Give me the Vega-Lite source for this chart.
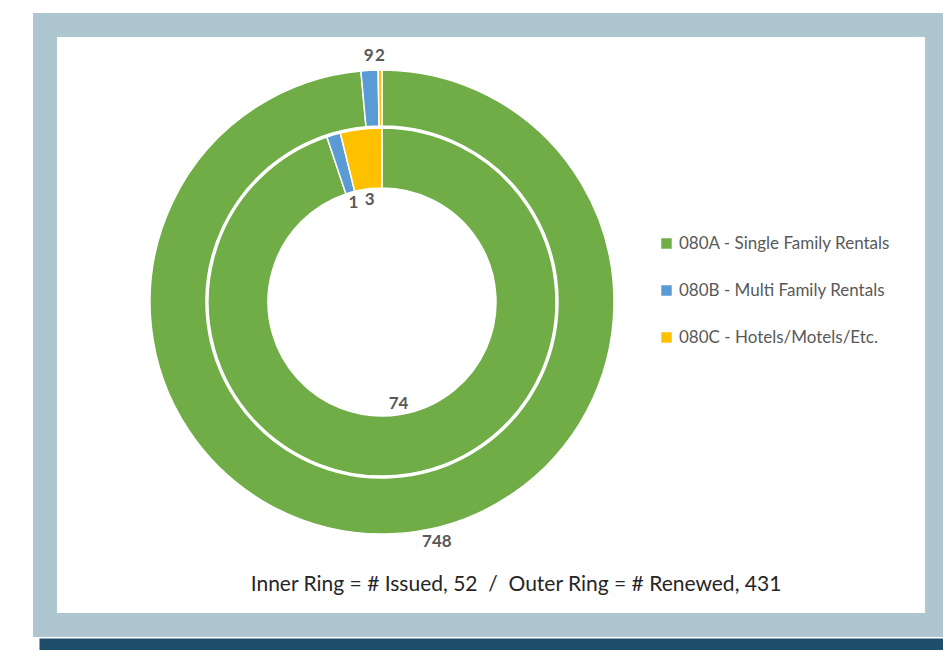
{
  "$schema": "https://vega.github.io/schema/vega-lite/v6.json",
  "width": 892,
  "height": 600,
  "autosize": {"type": "none"},
  "padding": {"left": 45, "top": 25, "right": 6, "bottom": 25},
  "background": "white",
  "title": {
    "text": "Inner Ring = # Issued, 52 \u00a0/\u00a0 Outer Ring = # Renewed, 431",
    "orient": "bottom",
    "anchor": "middle",
    "offset": -70,
    "dx": 25,
    "font": "Lato",
    "fontSize": 21,
    "fontWeight": "normal",
    "color": "#262626"
  },
  "data": {
    "values": [
      {"ring": "outer", "category": "080A - Single Family Rentals", "ord": 1, "value": 748},
      {"ring": "outer", "category": "080B - Multi Family Rentals", "ord": 2, "value": 9},
      {"ring": "outer", "category": "080C - Hotels/Motels/Etc.", "ord": 3, "value": 2},
      {"ring": "inner", "category": "080A - Single Family Rentals", "ord": 1, "value": 74},
      {"ring": "inner", "category": "080B - Multi Family Rentals", "ord": 2, "value": 1},
      {"ring": "inner", "category": "080C - Hotels/Motels/Etc.", "ord": 3, "value": 3}
    ]
  },
  "encoding": {
    "x": {
      "datum": "c",
      "type": "nominal",
      "scale": {"align": 0.3778},
      "axis": {"domainColor": "#1f4e6b", "domainWidth": 12, "domainCap": "square", "offset": 19, "labels": false, "ticks": false, "title": null, "grid": false}
    },
    "y": {"datum": "c", "type": "nominal", "scale": {"align": 0.4617}, "axis": null}
  },
  "layer": [
    {
      "transform": [{"filter": "datum.ring === 'outer'"}],
      "mark": {"type": "arc", "outerRadius": 232, "innerRadius": 176, "stroke": "white", "strokeWidth": 1.5},
      "encoding": {
        "theta": {"field": "value", "type": "quantitative", "stack": "normalize"},
        "order": {"field": "ord", "type": "quantitative"},
        "color": {
          "field": "category",
          "type": "nominal",
          "scale": {
            "domain": ["080A - Single Family Rentals", "080B - Multi Family Rentals", "080C - Hotels/Motels/Etc."],
            "range": ["#70ad47", "#5b9bd5", "#ffc000"]
          },
          "legend": {"title": null, "orient": "none", "legendX": 613, "legendY": 210}
        }
      }
    },
    {
      "transform": [{"filter": "datum.ring === 'inner'"}],
      "mark": {"type": "arc", "outerRadius": 174, "innerRadius": 114, "stroke": "white", "strokeWidth": 1.5},
      "encoding": {
        "theta": {"field": "value", "type": "quantitative", "stack": "normalize"},
        "order": {"field": "ord", "type": "quantitative"},
        "color": {
          "field": "category",
          "type": "nominal",
          "scale": {
            "domain": ["080A - Single Family Rentals", "080B - Multi Family Rentals", "080C - Hotels/Motels/Etc."],
            "range": ["#70ad47", "#5b9bd5", "#ffc000"]
          },
          "legend": {"title": null, "orient": "none", "legendX": 613, "legendY": 210}
        }
      }
    },
    {
      "transform": [{"filter": "datum.ring === 'outer'"}],
      "mark": {"type": "text", "radius": 246, "font": "Lato", "fontSize": 17, "fontWeight": "bold", "color": "#595959"},
      "encoding": {
        "theta": {"field": "value", "type": "quantitative", "stack": "normalize"},
        "order": {"field": "ord", "type": "quantitative"},
        "text": {"condition": {"test": "datum.value < 100", "field": "value", "type": "quantitative"}, "value": ""}
      }
    },
    {
      "transform": [{"filter": "datum.ring === 'outer'"}],
      "mark": {"type": "text", "radius": 240, "dx": 44, "font": "Lato", "fontSize": 17, "fontWeight": "bold", "color": "#595959"},
      "encoding": {
        "theta": {"field": "value", "type": "quantitative", "stack": "normalize"},
        "order": {"field": "ord", "type": "quantitative"},
        "text": {"condition": {"test": "datum.value >= 100", "field": "value", "type": "quantitative"}, "value": ""}
      }
    },
    {
      "transform": [{"filter": "datum.ring === 'inner'"}],
      "mark": {"type": "text", "radius": 103, "font": "Lato", "fontSize": 17, "fontWeight": "bold", "color": "#595959"},
      "encoding": {
        "theta": {"field": "value", "type": "quantitative", "stack": "normalize"},
        "order": {"field": "ord", "type": "quantitative"},
        "text": {"field": "value", "type": "quantitative"}
      }
    }
  ],
  "config": {
    "view": {"fill": "white", "stroke": "#aec6d0", "strokeWidth": 24},
    "legend": {
      "symbolType": "square",
      "symbolSize": 110,
      "symbolStrokeWidth": 0,
      "labelFont": "Lato",
      "labelFontSize": 17,
      "labelColor": "#595959",
      "labelLimit": 0,
      "rowPadding": 29,
      "labelOffset": 4,
      "padding": 0
    }
  }
}
